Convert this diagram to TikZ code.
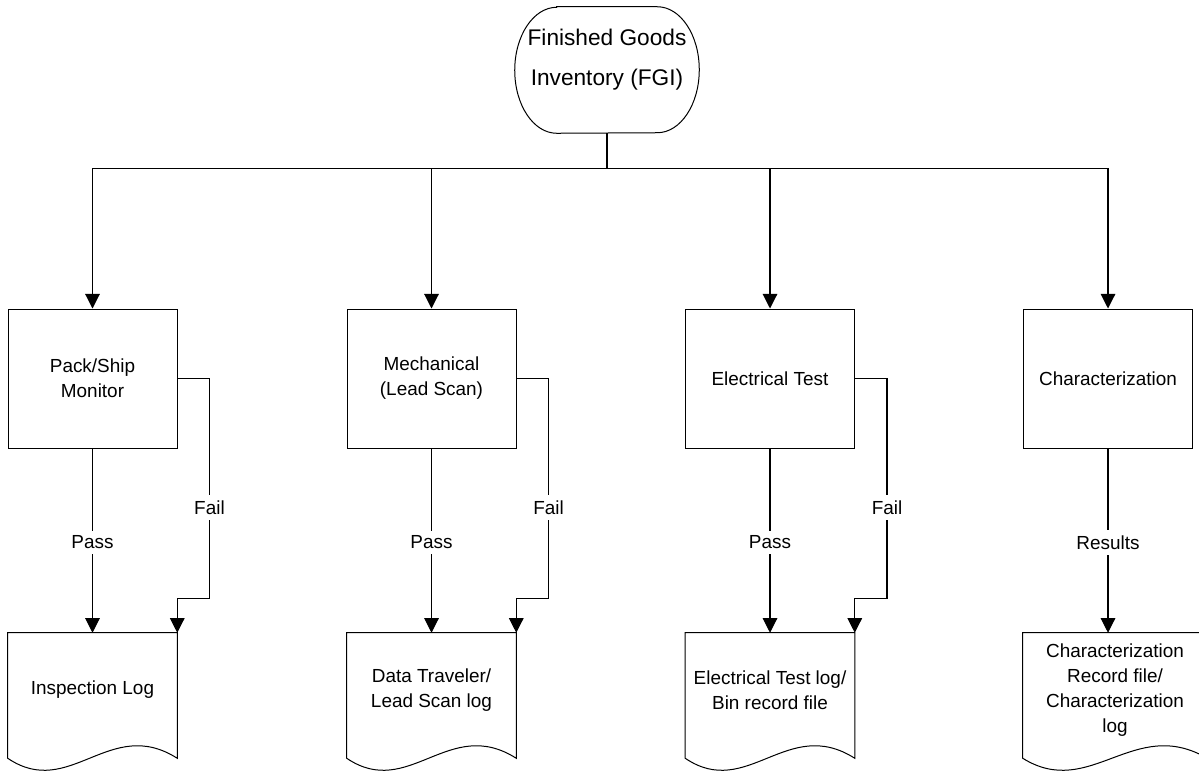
\documentclass[tikz,border=0pt]{standalone}
\usepackage{fontspec}
\setmainfont{Liberation Sans}
\usetikzlibrary{arrows.meta,calc}
\newcommand\smallfs{\fontsize{14.2pt}{18.75pt}\selectfont}
\newcommand\bigfs{\fontsize{17pt}{30pt}\selectfont}
\newcommand\drawdoc[2]{%
  \draw[shape line] (#1.north west) -- ([shift={(0,11)}]#1.south west)
    .. controls ([shift={(0.367*#2,53)}]#1.south west) and ([shift={(0.604*#2,-32)}]#1.south west)
    .. ([shift={(0,11)}]#1.south east) -- (#1.north east) -- cycle;}
\tikzset{
  shape line/.style={draw=black, line width=0.75pt},
  procbox/.style={shape line, rectangle, minimum width=126.75pt, minimum height=104.25pt, align=center, font=\smallfs, inner sep=0pt},
  docnode/.style={rectangle, minimum height=85.5pt, align=center, font=\smallfs, inner sep=0pt},
  conn/.style={draw=black, line width=0.8pt},
  arr/.style={conn, -{Triangle[width=11pt,length=11pt]}},
  lbl/.style={fill=white, font=\smallfs, inner xsep=2pt, inner ysep=4pt}
}
\begin{document}
\begin{tikzpicture}[x=0.75pt,y=-0.75pt]
\useasboundingbox (0,0) rectangle (1199,772);
% top terminator
\node[minimum width=138pt, minimum height=94.5pt, inner sep=0pt] (fgi) at (607,70) {};
\draw[shape line] ([xshift=31.5pt]fgi.north west) -- ([xshift=-31.5pt]fgi.north east)
  arc[start angle=90,end angle=-90,x radius=31.5pt,y radius=47.25pt]
  -- ([xshift=31.5pt]fgi.south west)
  arc[start angle=270,end angle=90,x radius=31.5pt,y radius=47.25pt] -- cycle;
\node[align=center, font=\bigfs, inner sep=0pt] (fgitext) at (607,60) {Finished Goods\\Inventory (FGI)};
% process boxes
\node[procbox] (b1) at (92.5,378.5) {Pack/Ship\\Monitor};
\node[procbox] (b2) at (431.5,378.5) {Mechanical\\(Lead Scan)};
\node[procbox] (b3) at (770,378.5) {Electrical Test};
\node[procbox] (b4) at (1108,378.5) {Characterization};
% documents
\node[docnode, minimum width=126.75pt] (d1) at (92.5,690) {Inspection Log};
\node[docnode, minimum width=126.75pt] (d2) at (431.5,690) {Data Traveler/\\Lead Scan log};
\node[docnode, minimum width=126.75pt] (d3) at (770,690) {Electrical Test log/\\Bin record file};
\node[docnode, minimum width=138pt] (d4) at (1115,690) {Characterization\\Record file/\\Characterization\\log};
\drawdoc{d1}{169}
\drawdoc{d2}{169}
\drawdoc{d3}{169}
\drawdoc{d4}{184}
% bus
\draw[conn] (fgi.south) -- ++(0,35) coordinate (bus);
\draw[arr] (bus) -| (b1.north);
\draw[arr] (bus) -| (b2.north);
\draw[arr] (bus) -| (b3.north);
\draw[arr] (bus) -| (b4.north);
% pass / fail
\foreach \b/\d in {b1/d1,b2/d2,b3/d3}{
  \draw[arr] (\b.south) -- (\d.north);
  \draw[arr] (\b.east) -- ++(32,0) |- ($(\d.north east)+(0,-34)$) -- (\d.north east);
  \node[lbl] at ($(\b.south)+(0,94)$) {Pass};
  \node[lbl] at ($(\b.east)+(32,129)$) {Fail};
}
\draw[arr] (b4.south) -- (b4.south |- d4.north);
\node[lbl] (res) at ($(b4.south)+(0,94)$) {Results};
\end{tikzpicture}
\end{document}
